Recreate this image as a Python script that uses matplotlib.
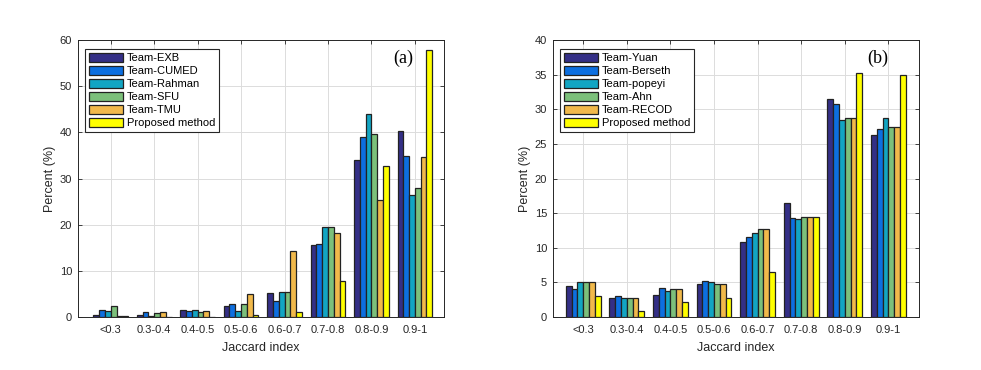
import numpy as np
import matplotlib
matplotlib.use('Agg')
import matplotlib.pyplot as plt

# Categories (Jaccard index bins)
categories = ['<0.3', '0.3-0.4', '0.4-0.5', '0.5-0.6', '0.6-0.7', '0.7-0.8', '0.8-0.9', '0.9-1']

# Panel (a) data
teams_a = ['Team-EXB', 'Team-CUMED', 'Team-Rahman', 'Team-SFU', 'Team-TMU', 'Proposed method']
exb = [0.4, 0.5, 1.6, 2.4, 5.3, 15.5, 34.0, 40.4]
cumed = [1.6, 1.1, 1.3, 2.9, 3.4, 15.9, 39.0, 34.8]
rahman = [1.2, 0.3, 1.6, 1.3, 5.5, 19.5, 44.0, 26.4]
sfu = [2.4, 0.8, 1.0, 2.9, 5.5, 19.5, 39.7, 28.0]
tmu = [0.3, 1.1, 1.4, 5.0, 14.3, 18.3, 25.3, 34.6]
proposed_a = [0.3, 0.0, 0.0, 0.5, 1.1, 7.7, 32.7, 57.8]

# Panel (b) data
teams_b = ['Team-Yuan', 'Team-Berseth', 'Team-popeyi', 'Team-Ahn', 'Team-RECOD', 'Proposed method']
yuan = [4.5, 2.7, 3.2, 4.7, 10.9, 16.4, 31.5, 26.3]
berseth = [4.0, 3.0, 4.2, 5.2, 11.5, 14.3, 30.7, 27.1]
popeyi = [5.0, 2.8, 3.7, 5.0, 12.2, 14.2, 28.4, 28.8]
ahn = [5.0, 2.7, 4.0, 4.8, 12.7, 14.5, 28.8, 27.5]
recod = [5.0, 2.7, 4.0, 4.8, 12.7, 14.5, 28.8, 27.5]
proposed_b = [3.0, 0.8, 2.2, 2.7, 6.5, 14.5, 35.3, 35.0]

colors = ['#342f86', '#0d6fe0', '#12a5c3', '#7cc07b', '#f1b94b', '#ffff00']

plt.rcParams['font.family'] = ['Liberation Sans', 'DejaVu Sans']

fig = plt.figure(figsize=(9.81, 3.70), dpi=100)
ax_a = fig.add_axes([0.0792, 0.1432, 0.3734, 0.7486])
ax_b = fig.add_axes([0.5634, 0.1432, 0.3734, 0.7486])


def draw_panel(ax, series, names, ymax, yticks, tag, xlim):
    x = np.arange(1, len(categories) + 1)
    n = len(series)
    w = 0.8 / n
    for i, (vals, name) in enumerate(zip(series, names)):
        offs = (i - (n - 1) / 2) * w
        ax.bar(x + offs, vals, width=w, color=colors[i], edgecolor='#222222',
               linewidth=0.9, label=name, zorder=3)
    ax.set_xlim(*xlim)
    ax.set_ylim(0, ymax)
    ax.set_xticks(x)
    ax.set_xticklabels(categories)
    ax.set_yticks(yticks)
    ax.tick_params(direction='in', length=3, width=0.6, labelsize=8,
                   top=True, right=True, colors='#262626')
    ax.tick_params(axis='x', pad=6)
    ax.tick_params(axis='y', pad=4)
    ax.grid(True, color='#dcdcdc', linewidth=0.7, zorder=0)
    ax.set_axisbelow(True)
    for s in ax.spines.values():
        s.set_color('#262626')
        s.set_linewidth(0.7)
    ax.set_xlabel('Jaccard index', fontsize=9, color='#262626', labelpad=5)
    ax.set_ylabel('Percent (%)', fontsize=9, color='#262626', labelpad=3)
    ax.text(0.915, 0.965, tag, transform=ax.transAxes, ha='right', va='top',
            fontsize=13, family=['Liberation Serif', 'DejaVu Serif'])
    leg = ax.legend(loc='upper left', bbox_to_anchor=(0.012, 0.98), fontsize=8,
                    frameon=True, fancybox=False, edgecolor='#262626',
                    handlelength=3.0, handleheight=0.85, labelspacing=0.25,
                    borderpad=0.35, handletextpad=0.4, borderaxespad=0.3)
    leg.get_frame().set_linewidth(0.8)
    leg.get_frame().set_alpha(1)


draw_panel(ax_a, [exb, cumed, rahman, sfu, tmu, proposed_a], teams_a,
           60, np.arange(0, 61, 10), '(a)', (0.24, 8.67))
draw_panel(ax_b, [yuan, berseth, popeyi, ahn, recod, proposed_b], teams_b,
           40, np.arange(0, 41, 5), '(b)', (0.3, 8.7))

fig.savefig('out.png', dpi=100)
